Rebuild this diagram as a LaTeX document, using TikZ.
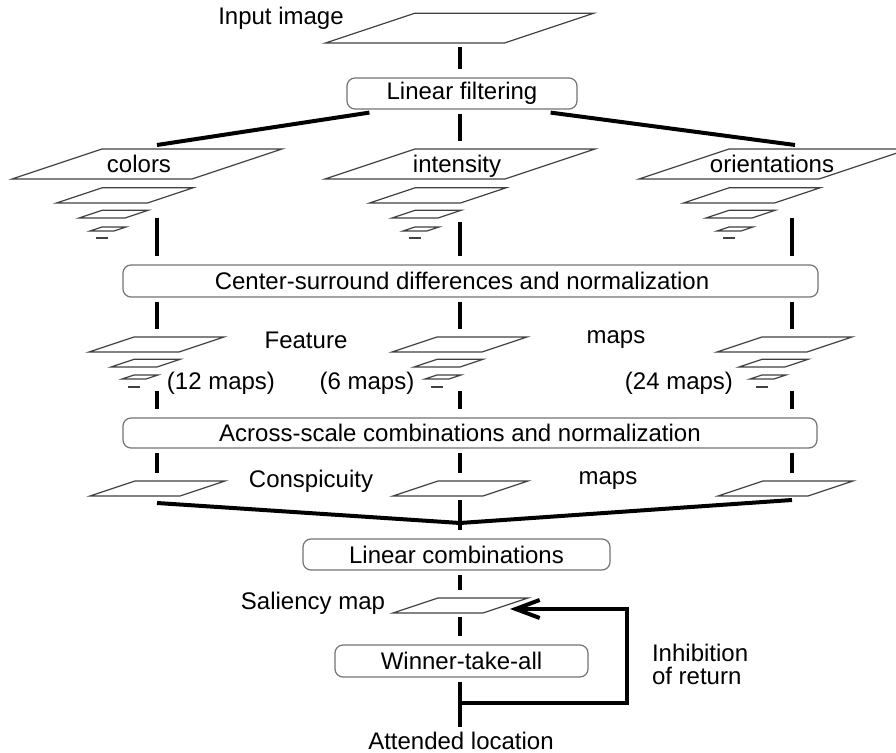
\documentclass[tikz,border=0pt]{standalone}
\usepackage{fontspec}
\setmainfont{Liberation Sans}
\usetikzlibrary{arrows.meta,calc}

\tikzset{
  slabline/.style={draw=black!75,line width=0.6pt},
  box/.style={draw=black!55,line width=0.6pt,rounded corners=4pt,fill=white,inner sep=0pt},
  link/.style={line width=2pt,shorten <=2pt,shorten >=4pt},
  feed/.style={line width=2pt},
  maplab/.style={text height=8.5pt,text depth=2.5pt},
}

% flat map: name, bottom-centre x, bottom y, width
\newcommand{\slab}[4]{%
  \filldraw[slabline,fill=white] ({#2-#4/2},#3) -- ({#2+#4/2},#3)
    -- ({#2+#4},{#3-#4/6}) -- (#2,{#3-#4/6}) -- cycle;
  \coordinate (#1) at ({#2+#4/4},{#3-#4/12});
  \coordinate (#1-t) at (#2,{#3-#4/6});
  \coordinate (#1-b) at (#2,#3);}

\begin{document}
\begin{tikzpicture}[x=0.5pt,y=-0.5pt,font=\fontsize{12}{14}\selectfont]
  \useasboundingbox (0,0) rectangle (896,753);
  \clip (0,0) rectangle (896,753);

  % Columns
  \coordinate (colL) at (157,0);
  \coordinate (colM) at (460,0);
  \coordinate (colR) at (792,0);

  % Input image
  \slab{in}{415}{43}{179}
  \node (inlab) at (281,18) {Input image};

  % Boxes
  \node[box,minimum width=115pt,minimum height=15.5pt] (filt) at (462,93.5) {Linear filtering};
  \node[box,minimum width=347.5pt,minimum height=16pt,
    label={[xshift=-4.25pt]center:Center-surround differences and normalization}] (csd) at (470.5,281) {};
  \node[box,minimum width=347pt,minimum height=15pt,
    label={[xshift=-5pt]center:Across-scale combinations and normalization}] (across) at (470,433) {};
  \node[box,minimum width=153.5pt,minimum height=15.5pt] (lincomb) at (456.5,554.5) {Linear combinations};
  \node[box,minimum width=126.5pt,minimum height=16pt] (wta) at (461.5,661) {Winner-take-all};

  % Gaussian pyramids
  \foreach \m/\n in {102/cL,415/cM,729/cR} {
    \slab{\n1}{\m}{179}{180}
    \slab{\n2}{\m}{203}{91}
    \slab{\n3}{\m}{218}{46}
    \slab{\n4}{\m}{231}{24}
    \draw[slabline] ({\m-6},238) -- ({\m+6},238);
    \coordinate (\n5) at (\m,238);
  }
  \node[maplab] (tcol) at ($(cL1)+(-8,3)$) {colors};
  \node[maplab] (tint) at ($(cM1)+(-3,3)$) {intensity};
  \node[maplab] (tori) at ($(cR1)+(-2,3)$) {orientations};

  % Feature maps
  \foreach \m/\n in {134/fL,437/fM,762/fR} {
    \slab{\n1}{\m}{352}{90}
    \slab{\n2}{\m}{367}{46}
    \slab{\n3}{\m}{379}{24}
    \draw[slabline] ({\m-6},387) -- ({\m+6},387);
    \coordinate (\n4) at (\m,387);
  }
  \node (feat) at (306,340) {Feature};
  \node (featm) at (616,340) {maps};
  \node (n12) at (221,383) {(12 maps)};
  \node (n6) at (367,383) {(6 maps)};
  \node (n24) at (679,383) {(24 maps)};

  % Conspicuity maps
  \slab{sL}{135}{496}{90}
  \slab{sM}{438}{496}{90}
  \slab{sR}{763}{496}{90}
  \node (consp) at (311,481) {Conspicuity};
  \node (conspm) at (608,481) {maps};

  % Saliency map
  \slab{sal}{438}{613}{90}
  \node (sallab) at (313,603) {Saliency map};

  % Middle column
  \draw[link] (in-b -| colM) -- (filt.north -| colM);
  \draw[link] (filt.south -| colM) -- (cM1-t -| colM);
  \draw[link] (cM3-b -| colM) -- (csd.north -| colM);
  \draw[link] (csd.south -| colM) -- (fM1-t -| colM);
  \draw[link] (fM4 -| colM) -- (across.north -| colM);
  \draw[link] (across.south -| colM) -- (sM-t -| colM);
  \draw[link] (sM-b -| colM) -- (lincomb.north -| colM);
  \draw[link] (lincomb.south -| colM) -- (sal-t -| colM);
  \draw[link] (sal-b -| colM) -- (wta.north -| colM);

  % Side columns
  \draw[feed] ($(filt.south west)+(23,3)$) -- ($(cL1-t -| colL)+(0,-4)$);
  \draw[feed] ($(filt.south east)+(-27,3)$) -- ($(cR1-t -| colR)+(3,-4)$);
  \foreach \c/\n in {colL/L,colR/R} {
    \draw[link,shorten <=0pt] (c\n3-b -| \c) -- (csd.north -| \c);
    \draw[link] (csd.south -| \c) -- (f\n1-t -| \c);
    \draw[link] (f\n4 -| \c) -- (across.north -| \c);
    \draw[link] (across.south -| \c) -- (s\n-t -| \c);
  }
  \coordinate (merge) at (460,523);
  \draw[feed] ($(sL-b -| colL)+(0,7)$) -- (merge) -- ($(sR-b -| colR)+(0,4)$);

  % Output and inhibition of return
  \coordinate (out) at (460,727);
  \draw[link,shorten >=0pt] (wta.south -| out) -- (out);
  \node (attn) at (461,741) {Attended location};
  \coordinate (tap) at (460,703);
  \coordinate (turn) at (627,609);
  \coordinate (salr) at (510,609);
  \draw[feed,-{Straight Barb[length=12pt,width=9pt]}] (tap) -| (turn) -- (salr);
  \node[align=left,anchor=west,font=\fontsize{12}{11.5}\selectfont] (inh) at (645,664) {Inhibition\\of return};

\end{tikzpicture}
\end{document}
